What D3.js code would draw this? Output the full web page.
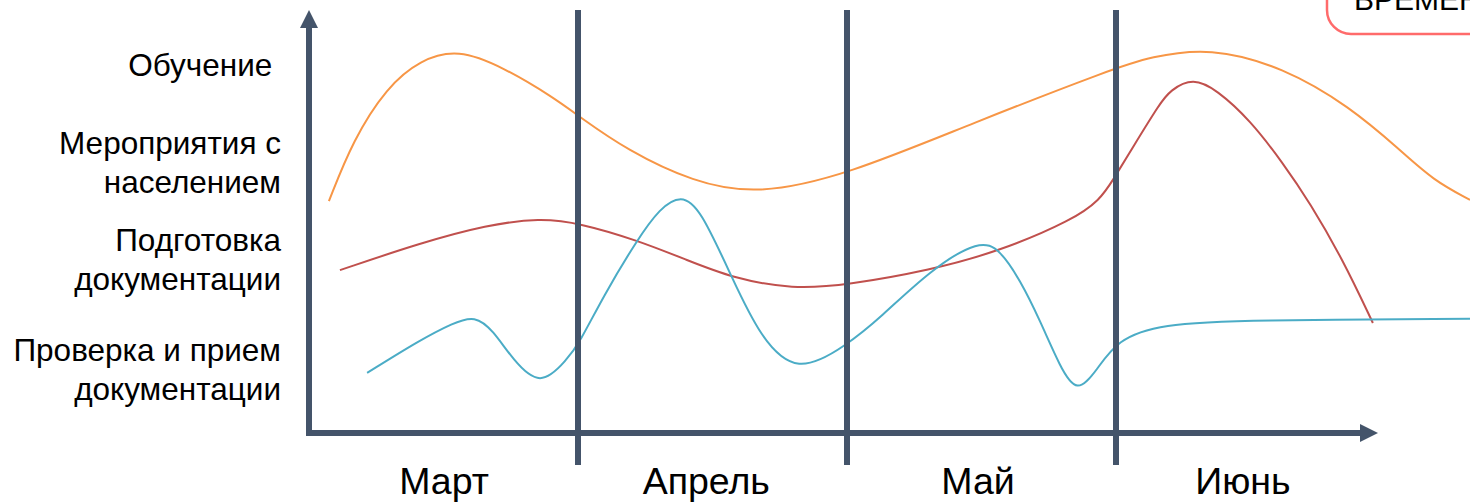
<!DOCTYPE html>
<html>
<head>
<meta charset="utf-8">
<script src="https://cdn.jsdelivr.net/npm/d3@7"></script>
<style>
  html, body { margin: 0; padding: 0; background: #fff; overflow: hidden; }
  text { font-family: "Liberation Sans", Arial, sans-serif; }
</style>
</head>
<body>
<svg id="chart" width="1470" height="503"></svg>
<script>
// months along the x axis, one unit per month
var months = ["Март", "Апрель", "Май", "Июнь"];
var monthPos = [0.5, 1.475, 2.485, 3.47];
var dividers = [1, 2, 3];

// activity rows on the left, value = vertical centre of the label
var rowLabels = [["Обучение "], ["Мероприятия с", "населением"], ["Подготовка", "документации"], ["Проверка и прием", "документации"]];
var rowPos = [87, 64, 41, 15];

// Обучение
var trainX = [0.074, 0.164, 0.29, 0.413, 0.554, 0.721, 0.907, 1.007, 1.182, 1.428, 1.665, 2.0, 2.468, 2.989, 3.126, 3.349, 3.621, 3.87, 4.056, 4.178, 4.316];
var trainY = [54.8, 69.3, 81.8, 88.2, 90.8, 86.5, 79.4, 74.7, 66.9, 59.3, 56.3, 61.0, 73.3, 86.1, 88.9, 91.2, 86.5, 77.1, 66.9, 59.8, 55.1];

// Подготовка документации
var prepX = [0.115, 0.413, 0.662, 0.859, 1.007, 1.219, 1.405, 1.576, 1.799, 2.0, 2.309, 2.569, 2.84, 2.94, 2.989, 3.063, 3.164, 3.201, 3.286, 3.375, 3.498, 3.621, 3.721, 3.844, 3.955];
var prepY = [38.5, 44.9, 49.2, 50.8, 49.6, 45.6, 40.9, 36.6, 34.0, 35.0, 38.5, 43.0, 50.4, 55.1, 59.8, 67.6, 78.0, 81.0, 84.0, 81.1, 74.0, 63.8, 54.4, 40.9, 26.0];

// Проверка и прием документации
var checkX = [0.216, 0.413, 0.535, 0.617, 0.684, 0.758, 0.859, 0.959, 1.007, 1.093, 1.219, 1.305, 1.383, 1.454, 1.576, 1.677, 1.814, 2.0, 2.123, 2.309, 2.494, 2.569, 2.643, 2.717, 2.792, 2.855, 2.929, 3.004, 3.164, 3.498, 4.316];
var checkY = [14.2, 22.0, 26.0, 27.8, 24.3, 17.3, 10.8, 17.3, 21.5, 32.2, 45.6, 53.2, 56.3, 53.2, 36.2, 22.7, 13.7, 20.8, 27.2, 38.5, 45.8, 43.3, 36.2, 26.7, 15.6, 9.2, 14.9, 22.0, 25.8, 26.7, 27.0];

var axisColor = "#44546a";
var svg = d3.select("#chart");

var x = d3.scaleLinear().domain([0, 4]).range([309, 1385]);
var y = d3.scaleLinear().domain([0, 100]).range([433, 10]);
var xEnd = 3.974;

//// lines
var line = d3.line()
  .x(function(d) { return x(d[0]); })
  .y(function(d) { return y(d[1]); })
  .curve(d3.curveBasis);

var series = [
  { xs: trainX, ys: trainY, color: "#f79646" },
  { xs: prepX, ys: prepY, color: "#c0504d" },
  { xs: checkX, ys: checkY, color: "#4bacc6" }
];

series.forEach(function(s) {
  svg.append("path")
    .datum(d3.zip(s.xs, s.ys))
    .attr("fill", "none")
    .attr("stroke", s.color)
    .attr("stroke-width", 2)
    .attr("d", line);
});

//// month dividers
svg.selectAll(".divider")
  .data(dividers)
  .enter()
  .append("line")
  .attr("class", "divider")
  .attr("x1", d => x(d)).attr("x2", d => x(d))
  .attr("y1", y(100)).attr("y2", y(0) + 32)
  .attr("stroke", axisColor)
  .attr("stroke-width", 6);

//// axes with arrows
svg.append("line")
  .attr("x1", x(0)).attr("x2", x(0))
  .attr("y1", y(0) + 3).attr("y2", y(100) + 16)
  .attr("stroke", axisColor).attr("stroke-width", 6);
svg.append("path")
  .attr("d", d3.line()([[x(0), y(100)], [x(0) + 9, y(100) + 18], [x(0) - 9, y(100) + 18]]))
  .attr("fill", axisColor);

svg.append("line")
  .attr("x1", x(0) - 3).attr("x2", x(xEnd) - 16)
  .attr("y1", y(0)).attr("y2", y(0))
  .attr("stroke", axisColor).attr("stroke-width", 6);
svg.append("path")
  .attr("d", d3.line()([[x(xEnd), y(0)], [x(xEnd) - 18, y(0) - 9], [x(xEnd) - 18, y(0) + 9]]))
  .attr("fill", axisColor);

//// month labels
var xAxis = d3.axisBottom(x)
  .tickValues(monthPos)
  .tickFormat(function(d, i) { return months[i]; })
  .tickSize(0)
  .tickPadding(34);

var gx = svg.append("g")
  .attr("transform", "translate(0," + y(0) + ")")
  .call(xAxis);
gx.select(".domain").remove();
gx.selectAll("text")
  .attr("fill", "#000")
  .style("font-family", "'Liberation Sans', Arial, sans-serif")
  .style("font-size", "37.5px");

//// row labels
rowLabels.forEach(function(lines, i) {
  var cy = y(rowPos[i]);
  var t = svg.append("text")
    .attr("text-anchor", "end")
    .style("font-size", "31.5px")
    .style("white-space", "pre")
    .attr("fill", "#000");
  lines.forEach(function(s, j) {
    t.append("tspan")
      .attr("x", 281)
      .attr("y", cy + (j - (lines.length - 1) / 2) * 39 + 11)
      .text(s);
  });
});

//// clipped title box top right
svg.append("rect")
  .attr("x", 1327).attr("y", -40)
  .attr("width", 200).attr("height", 74)
  .attr("rx", 24)
  .attr("fill", "none")
  .attr("stroke", "#ff6b6b")
  .attr("stroke-width", 2.5);
svg.append("text")
  .attr("x", 1354).attr("y", 10)
  .style("font-size", "30px")
  .attr("fill", "#000")
  .text("ВРЕМЕННАЯ ШКАЛА");
</script>
</body>
</html>
